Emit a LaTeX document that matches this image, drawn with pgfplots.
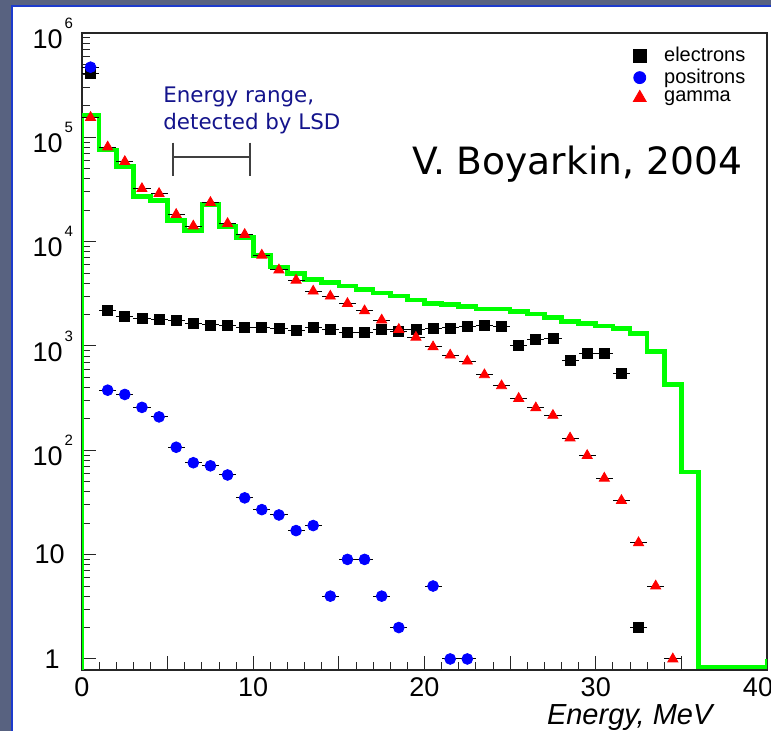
\documentclass[border=0pt]{standalone}
\usepackage{fontspec}
\setmainfont{Liberation Sans}
\newfontfamily\dejavu{DejaVu Sans}
\usepackage{pgfplots}
\pgfplotsset{compat=1.18}
\definecolor{slate}{RGB}{88,98,128}
\definecolor{slideblue}{RGB}{28,58,205}
\definecolor{histgreen}{RGB}{0,255,0}
\definecolor{navytext}{RGB}{20,20,140}
\newcommand{\pw}[1]{10\rlap{\kern1pt\raisebox{10pt}{\fontsize{7.5}{7.5}\selectfont #1}}}

\pgfplotsset{
  rootpts/.style={only marks,
    error bars/x dir=both, error bars/x fixed=0.5,
    error bars/error mark=none,
    error bars/error bar style={black,line width=0.5pt}},
  legmark/.style={legend image code/.code={%
    \path (0pt,-3.5pt) (15.25pt,3.5pt);
    \draw[##1,mark size=#1] plot coordinates {(3.25pt,0pt)};}},
}

\begin{document}
\begin{tikzpicture}
\useasboundingbox (0,0) rectangle (385.5pt,365.5pt);
\fill[slate] (0,0) rectangle (385.5pt,365.5pt);
\fill[white] (6pt,0) rectangle (385.5pt,362.5pt);
\draw[slideblue,line width=1pt] (6pt,0) -- (6pt,362.5pt) -- (385.5pt,362.5pt);
\begin{axis}[
  at={(41pt,30.5pt)}, anchor=south west,
  scale only axis, width=342.5pt, height=318.5pt,
  xmin=0, xmax=40, ymode=log, ymin=0.784, ymax=1e6,
  axis line style={black!85, line width=0.6pt},
  tick align=inside, xtick pos=left, ytick pos=left,
  xtick={0,5,10,15,20,25,30,35}, xticklabels={0,,10,,20,,30,},
  extra x ticks={40}, extra x tick labels={40},
  extra x tick style={tick label style={xshift=-4.5pt}},
  minor x tick num=4,
  ytick={1,10,100,1000,10000,100000,1000000},
  yticklabels={1\kern1.5pt,10\kern-1pt,\pw{2},\pw{3},\pw{4},\pw{5},\pw{6}},
  minor ytick={2,3,4,5,6,7,8,9,20,30,40,50,60,70,80,90,
    200,300,400,500,600,700,800,900,2000,3000,4000,5000,6000,7000,8000,9000,
    20000,30000,40000,50000,60000,70000,80000,90000,
    200000,300000,400000,500000,600000,700000,800000,900000},
  major tick length=7pt, minor tick length=4pt,
  tick style={black!85, line width=0.5pt},
  ticklabel style={font=\fontsize{13.5}{13.5}\selectfont, inner sep=0pt},
  xticklabel style={anchor=north, yshift=-3.8pt},
  yticklabel style={anchor=east, xshift=-9.5pt},
  xlabel={\itshape Energy, MeV},
  xlabel style={at={(axis description cs:0.921,0)}, anchor=base east,
    yshift=-27.5pt, inner sep=0pt, font=\fontsize{14.5}{14.5}\selectfont},
  legend style={draw=none, fill=none, at={(0.8036,0.978)}, anchor=north west,
    inner sep=0pt, row sep=2pt, font=\fontsize{10}{10}\selectfont,
    nodes={inner sep=0pt}},
  legend cell align=left,
]
% total spectrum, bin left edges
\addplot[const plot mark left, histgreen, line width=2.3pt, forget plot] coordinates {
  (0,0.784) (0,161000) (1,75600) (2,52400) (3,27000) (4,24900) (5,16000)
  (6,12800) (7,22800) (8,14000) (9,11000) (10,7410) (11,5720) (12,4950)
  (13,4360) (14,4060) (15,3770) (16,3480) (17,3230) (18,3020) (19,2750)
  (20,2550) (21,2500) (22,2400) (23,2270) (24,2270) (25,2150) (26,2020)
  (27,1870) (28,1720) (29,1640) (30,1560) (31,1470) (32,1310) (33,891)
  (34,428) (35,62) (36,0.84) (37,0.84) (38,0.84) (39,0.84) (40,1)};

\addplot[rootpts, mark=square*, mark size=2.5pt, black, legmark=3.25pt] coordinates {
  (0.5,410000) (1.5,2200) (2.5,1930) (3.5,1830) (4.5,1790) (5.5,1740)
  (6.5,1660) (7.5,1590) (8.5,1560) (9.5,1515) (10.5,1515) (11.5,1480)
  (12.5,1400) (13.5,1515) (14.5,1440) (15.5,1360) (16.5,1360) (17.5,1440)
  (18.5,1365) (19.5,1440) (20.5,1465) (21.5,1490) (22.5,1525) (23.5,1580)
  (24.5,1550) (25.5,1010) (26.5,1155) (27.5,1180) (28.5,730) (29.5,840)
  (30.5,840) (31.5,550) (32.5,2)};
\addlegendentry{electrons}

\addplot[rootpts, mark=*, mark size=2.7pt, blue, legmark=3pt] coordinates {
  (0.5,470000) (1.5,377) (2.5,343) (3.5,258) (4.5,209) (5.5,107) (6.5,76)
  (7.5,71) (8.5,58) (9.5,35) (10.5,27) (11.5,24) (12.5,17) (13.5,19)
  (14.5,4) (15.5,9) (16.5,9) (17.5,4) (18.5,2) (20.5,5) (21.5,1) (22.5,1)};
\addlegendentry{positrons}

\addplot[rootpts, mark=triangle*, mark size=2.9pt, red, legmark=3.7pt] coordinates {
  (0.5,155000) (1.5,80700) (2.5,58500) (3.5,32200) (4.5,28900) (5.5,18200)
  (6.5,14100) (7.5,23700) (8.5,14900) (9.5,11700) (10.5,7410) (11.5,5350)
  (12.5,4270) (13.5,3350) (14.5,3000) (15.5,2550) (16.5,2170) (17.5,1770)
  (18.5,1440) (19.5,1210) (20.5,980) (21.5,817) (22.5,715) (23.5,529)
  (24.5,415) (25.5,314) (26.5,255) (27.5,216) (28.5,131) (29.5,89)
  (30.5,54) (31.5,33) (32.5,13) (33.5,5) (34.5,1)};
\addlegendentry{gamma}

% detected energy range bracket
\draw[black!75, line width=0.6pt] (axis cs:5.31,6.47e4) -- (axis cs:9.81,6.47e4);
\draw[black!75, line width=0.6pt] (axis cs:5.31,8.88e4) -- (axis cs:5.31,4.28e4);
\draw[black!75, line width=0.6pt] (axis cs:9.81,8.88e4) -- (axis cs:9.81,4.28e4);
\end{axis}
\node[anchor=base west, inner sep=0pt, text=navytext, font=\dejavu\fontsize{10.7}{10.7}\selectfont]
  at (81.5pt,314.15pt) {Energy range,};
\node[anchor=base west, inner sep=0pt, text=navytext, font=\dejavu\fontsize{10.7}{10.7}\selectfont]
  at (81.5pt,300.85pt) {detected by LSD};
\node[anchor=base west, inner sep=0pt, font=\dejavu\fontsize{18.8}{18.8}\selectfont]
  at (205.85pt,278pt) {V. Boyarkin, 2004};
\end{tikzpicture}
\end{document}
